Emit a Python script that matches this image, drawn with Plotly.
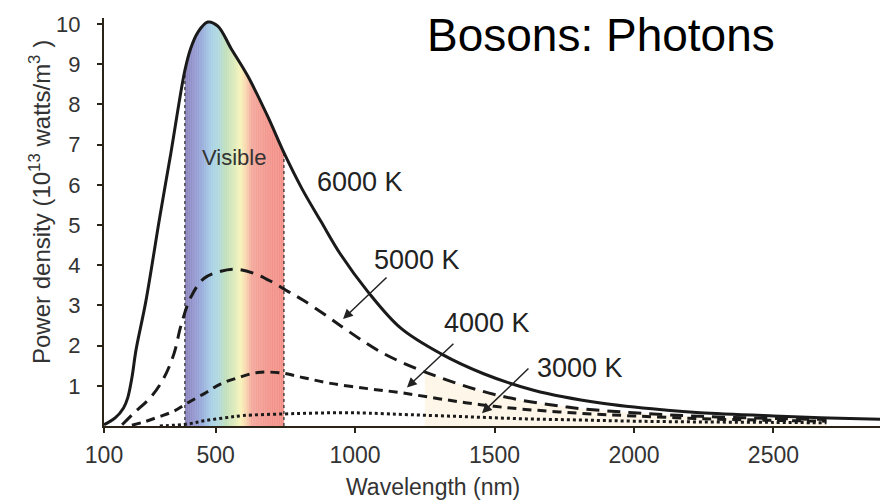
import numpy as np
import plotly.graph_objects as go

# ---- data (wavelength in nm, power density in 1e13 W/m^3) ----
wl_6000 = [100, 140, 170, 185, 200, 215, 250, 300, 340, 390, 411, 437, 472, 508, 555, 616, 687,
           745, 810, 877, 949, 1045, 1163, 1307, 1461, 1640, 1880, 2119, 2237, 2500, 2700, 2882]
p_6000 = [0.03, 0.2, 0.45, 0.7, 1.2, 1.9, 3.1, 5.2, 6.8, 8.85, 9.4, 9.8, 10.05, 9.95, 9.4, 8.7, 7.7,
          6.8, 5.9, 5.1, 4.26, 3.35, 2.44, 1.8, 1.3, 0.89, 0.57, 0.39, 0.33, 0.25, 0.2, 0.17]

wl_5000 = [165, 207, 268, 315, 351, 376, 411, 458, 519, 575, 637, 698, 759, 816, 902, 949,
           1103, 1307, 1521, 1761, 1998, 2237, 2500, 2690]
p_5000 = [0.03, 0.32, 0.72, 1.2, 1.8, 2.5, 3.2, 3.67, 3.85, 3.9, 3.8, 3.6, 3.35, 3.12, 2.72, 2.49,
          1.8, 1.2, 0.75, 0.47, 0.33, 0.24, 0.19, 0.16]

wl_4000 = [200, 243, 293, 351, 401, 458, 519, 580, 651, 734, 816, 913, 1045, 1163, 1300, 1450,
           1600, 1800, 2000, 2250, 2500, 2690]
p_4000 = [0.02, 0.1, 0.22, 0.37, 0.58, 0.8, 1.05, 1.2, 1.33, 1.32, 1.2, 1.06, 0.93, 0.83, 0.68, 0.53,
          0.42, 0.32, 0.25, 0.18, 0.14, 0.12]

wl_3000 = [300, 400, 458, 530, 600, 745, 850, 950, 1050, 1200, 1400, 1600, 1800, 2000, 2250, 2500, 2690]
p_3000 = [0.0, 0.05, 0.13, 0.2, 0.26, 0.3, 0.32, 0.33, 0.32, 0.28, 0.23, 0.18, 0.15, 0.12, 0.1, 0.09, 0.08]

visible_range = [390, 745]
x_ticks = [100, 500, 1000, 1500, 2000, 2500]
y_ticks = [1, 2, 3, 4, 5, 6, 7, 8, 9, 10]

# spectrum colour stops (nm -> rgb)
spec_nm = [390, 420, 450, 485, 510, 535, 565, 590, 610, 630, 700, 745]
spec_rgb = [(127, 120, 180), (138, 140, 203), (143, 163, 216), (160, 204, 228), (170, 214, 220),
            (185, 220, 181), (216, 232, 181), (247, 243, 180), (248, 208, 166), (244, 160, 147),
            (242, 139, 130), (242, 136, 127)]

FONT = "Liberation Sans, Arial, Helvetica, sans-serif"
INK = "#1a1a1a"

fig = go.Figure()

# faint beige tint under the long-wavelength tail
tail_x = [1250] + [w for w in wl_5000 if w > 1250]
tail_y = list(np.interp(tail_x, wl_5000, p_5000))
fig.add_trace(go.Scatter(x=tail_x, y=tail_y, mode="lines", line=dict(width=0, shape="spline"),
                         fill="tozeroy", fillcolor="rgba(252,234,205,0.45)", hoverinfo="skip",
                         showlegend=False))

# visible spectrum band (slices under the 6000 K curve)
edges = np.arange(visible_range[0], visible_range[1] + 0.1, 2.5)
for a, b in zip(edges[:-1], edges[1:]):
    c = 0.5 * (a + b)
    r = np.interp(c, spec_nm, [t[0] for t in spec_rgb])
    g = np.interp(c, spec_nm, [t[1] for t in spec_rgb])
    bl = np.interp(c, spec_nm, [t[2] for t in spec_rgb])
    ya, yb = np.interp([a, b], wl_6000, p_6000)
    fig.add_trace(go.Scatter(x=[a, a, b + 0.6, b + 0.6, a], y=[0, ya, yb, 0, 0], mode="lines",
                             line=dict(width=0), fill="toself",
                             fillcolor=f"rgb({int(r)},{int(g)},{int(bl)})",
                             hoverinfo="skip", showlegend=False))

# dotted borders of the visible band
for v in visible_range:
    top = float(np.interp(v, wl_6000, p_6000))
    fig.add_trace(go.Scatter(x=[v, v], y=[0, top], mode="lines",
                             line=dict(color="#333333", width=1.3, dash="dot"),
                             hoverinfo="skip", showlegend=False))

# curves
fig.add_trace(go.Scatter(x=wl_3000, y=p_3000, mode="lines", name="3000 K",
                         line=dict(color=INK, width=3, dash="3px,3px", shape="spline")))
fig.add_trace(go.Scatter(x=wl_4000, y=p_4000, mode="lines", name="4000 K",
                         line=dict(color=INK, width=3, dash="9px,6px", shape="spline")))
fig.add_trace(go.Scatter(x=wl_5000, y=p_5000, mode="lines", name="5000 K",
                         line=dict(color=INK, width=3, dash="13px,8px", shape="spline")))
fig.add_trace(go.Scatter(x=wl_6000, y=p_6000, mode="lines", name="6000 K",
                         line=dict(color=INK, width=3, shape="spline")))

ann = []
# temperature labels
for txt, x, y in [("6000 K", 857, 6.08), ("5000 K", 1061, 4.14), ("4000 K", 1312, 2.56),
                  ("3000 K", 1645, 1.45)]:
    ann.append(dict(x=x, y=y, text=txt, showarrow=False, xanchor="left", yanchor="middle",
                    font=dict(family=FONT, size=27, color="#222222")))
# arrows
for x, y, ax, ay in [(957, 2.66, 45, -43), (1186, 0.96, 48, -45), (1455, 0.32, 48, -46)]:
    ann.append(dict(x=x, y=y, ax=ax, ay=ay, text="", showarrow=True, arrowhead=2,
                    arrowsize=1.3, arrowwidth=1.5, arrowcolor="#222222"))
ann.append(dict(x=566, y=6.67, text="Visible", showarrow=False,
                font=dict(family=FONT, size=22, color="#333333")))
ann.append(dict(x=0.4137, y=0.958, xref="paper", yref="paper", text="Bosons: Photons",
                showarrow=False, xanchor="left", yanchor="middle",
                font=dict(family=FONT, size=46, color="#000000")))
ann.append(dict(x=-0.0825, y=0.549, xref="paper", yref="paper",
                text="Power density (10<sup>13</sup> watts/m<sup>3</sup> )", textangle=-90,
                xanchor="center", yanchor="middle",
                showarrow=False, font=dict(family=FONT, size=24, color="#333333")))
ann.append(dict(x=0.424, y=-0.15, xref="paper", yref="paper", text="Wavelength (nm)",
                xanchor="center", yanchor="middle",
                showarrow=False, font=dict(family=FONT, size=23, color="#333333")))

fig.update_layout(
    width=895, height=502,
    margin=dict(l=104, r=15, t=14, b=76),
    paper_bgcolor="white", plot_bgcolor="white",
    showlegend=False,
    annotations=ann,
    xaxis=dict(range=[100, 2882], tickvals=x_ticks, ticktext=[str(t) for t in x_ticks],
               showgrid=False, zeroline=False, showline=True, linecolor="#2a2418", linewidth=2,
               ticks="outside", ticklen=5, tickwidth=2, tickcolor="#2a2418",
               ticklabelstandoff=2,
               tickfont=dict(family=FONT, size=23, color="#333333")),
    yaxis=dict(range=[0, 10.15], tickvals=y_ticks, showgrid=False, zeroline=False,
               showline=True, linecolor="#2a2418", linewidth=2,
               ticks="outside", ticklen=5, tickwidth=2, tickcolor="#2a2418",
               ticklabelstandoff=12,
               tickfont=dict(family=FONT, size=22, color="#333333")),
)

fig.write_html("out.html")
